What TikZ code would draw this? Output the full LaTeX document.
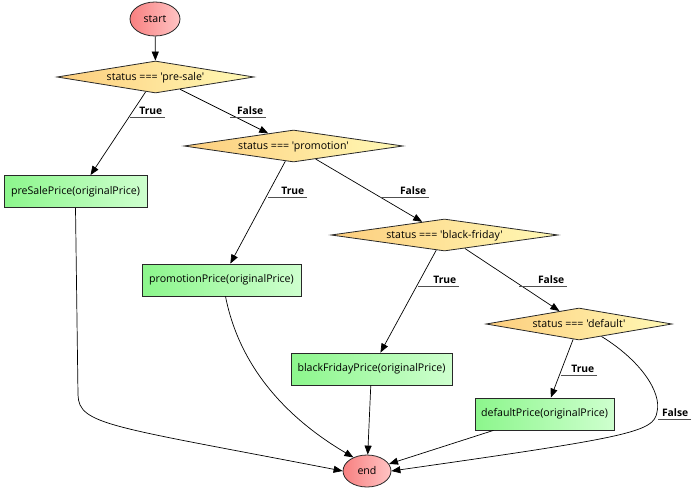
\documentclass[tikz,border=0pt]{standalone}
\usepackage{fontspec}
\setmainfont{Open Sans}[Ligatures=TeXOff]
\usetikzlibrary{shapes.geometric,arrows.meta,calc}
\definecolor{boxL}{RGB}{140,246,140}
\definecolor{boxR}{RGB}{206,255,206}
\definecolor{dmL}{RGB}{253,205,125}
\definecolor{dmR}{RGB}{255,250,182}
\definecolor{elL}{RGB}{248,128,128}
\definecolor{elR}{RGB}{255,196,196}
\definecolor{bord}{RGB}{40,40,40}
\definecolor{ulc}{RGB}{80,80,80}
\newcommand{\ztext}[1]{\makebox[0pt]{\raisebox{-3.6pt}[0pt][0pt]{#1}}}
\tikzset{
  every node/.style={font=\fontsize{10.6}{12}\selectfont},
  term/.style={ellipse, draw=bord, line width=0.8pt, left color=elL, right color=elR, inner sep=0pt},
  cond/.style={diamond, draw=bord, line width=0.8pt, left color=dmL, right color=dmR, inner sep=0pt, minimum height=32pt},
  act/.style={rectangle, draw=bord, line width=0.8pt, left color=boxL, right color=boxR, minimum height=32pt, inner sep=0pt},
  arr/.style={draw=black, line width=0.7pt, -{Triangle[length=9pt,width=7pt]}},
  lbl/.style={font=\bfseries\fontsize{10.3}{12}\selectfont, inner sep=2.5pt, anchor=south east},
  uline/.style={draw=ulc, line width=0.7pt}
}
\begin{document}
\begin{tikzpicture}[x=1pt,y=-1pt]
\useasboundingbox (0,0) rectangle (700,497);
% nodes
\node[term, minimum width=50pt, minimum height=34pt] (start) at (155,19) {start};
\node[cond, minimum width=197pt] (pre) at (155.5,77) {\ztext{status === 'pre-sale'}};
\node[act, minimum width=143pt] (ps) at (75.5,191.5) {preSalePrice(originalPrice)};
\node[cond, minimum width=219pt] (promo) at (293.5,146) {\ztext{status === 'promotion'}};
\node[act, minimum width=159pt] (pp) at (221.5,280) {promotionPrice(originalPrice)};
\node[cond, minimum width=227pt] (bf) at (444.5,235) {\ztext{status === 'black-friday'}};
\node[act, minimum width=161pt] (bfp) at (371.5,369) {blackFridayPrice(originalPrice)};
\node[cond, minimum width=186pt] (def) at (579,324) {\ztext{status === 'default'}};
\node[act, minimum width=139pt] (dp) at (544.5,414) {defaultPrice(originalPrice)};
\node[term, minimum width=48pt, minimum height=32pt] (end) at (367,471) {end};
% edges
\draw[arr] (start) -- (pre);
\draw[arr] (pre) -- ($(ps.north)+(15,0)$);
\draw[arr] (pre) -- (promo);
\draw[arr] (promo) -- (pp);
\draw[arr] (promo) -- (bf);
\draw[arr] (bf) -- (bfp);
\draw[arr] (bf) -- (def);
\draw[arr] (def) -- (dp);
\draw[arr] (bfp) -- (end);
\draw[arr] (dp) -- (end);
\draw[arr] (ps.south) -- (78,395) .. controls (79,425) and (110,426) .. (end.west);
\draw[arr] ($(pp.south)+(4,0)$) .. controls (240,370) and (290,420) .. (end.135);
\draw[arr] (def.-29) .. controls (640,360) and (662,392) .. (657,412) .. controls (654,432) and (630,437) .. (end.east);
% labels
\node[lbl] (l1) at (165,117) {True};
\draw[uline] (l1.south east) -- ++(-35,0);
\node[lbl] (l2) at (266,117) {False};
\draw[uline] (l2.south east) -- ++(-36,0);
\node[lbl] (l3) at (307,197) {True};
\draw[uline] (l3.south east) -- ++(-39,0);
\node[lbl] (l4) at (429,197) {False};
\draw[uline] (l4.south east) -- ++(-49,0);
\node[lbl] (l5) at (459,286) {True};
\draw[uline] (l5.south east) -- ++(-41,0);
\node[lbl] (l6) at (567,286) {False};
\draw[uline] (l6.south east) -- ++(-48,0);
\node[lbl] (l7) at (597,375) {True};
\draw[uline] (l7.south east) -- ++(-36,0);
\node[lbl] (l8) at (691,419) {False};
\draw[uline] (l8.south east) -- ++(-33,0);
\end{tikzpicture}
\end{document}
